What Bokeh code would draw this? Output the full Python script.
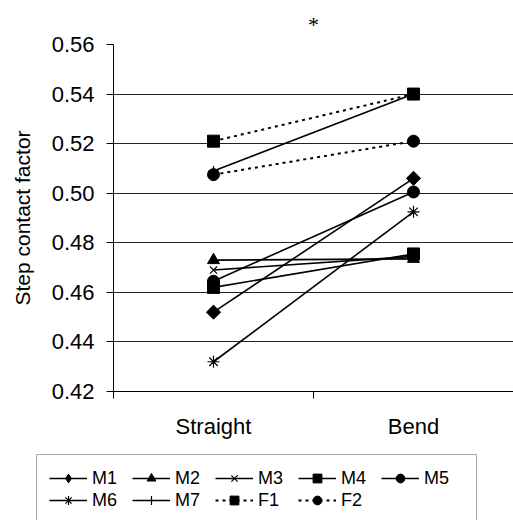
import math
from bokeh.plotting import figure
from bokeh.models import (Range1d, FixedTicker, NumeralTickFormatter, Legend,
                          LegendItem)
from bokeh.embed import file_html
from bokeh.resources import INLINE

# Step contact factor per subject, straight vs. bend
conditions = ["Straight", "Bend"]
subjects = ["M1", "M2", "M3", "M4", "M5", "M6", "M7", "F1", "F2"]
M1 = [0.452, 0.506]
M2 = [0.473, 0.4735]
M3 = [0.469, 0.4745]
M4 = [0.462, 0.4755]
M5 = [0.4645, 0.5005]
M6 = [0.432, 0.4925]
M7 = [0.509, 0.540]
F1 = [0.521, 0.540]
F2 = [0.5075, 0.521]
y_ticks = [0.42, 0.44, 0.46, 0.48, 0.50, 0.52, 0.54, 0.56]

series = dict(M1=M1, M2=M2, M3=M3, M4=M4, M5=M5, M6=M6, M7=M7, F1=F1, F2=F2)
markers = dict(M1="square", M2="triangle", M3="x", M4="square", M5="circle",
               M6="asterisk", M7="cross", F1="square", F2="circle")
legend_markers = dict(markers, M1="diamond")
angles = dict(M1=math.pi / 4)
sizes = dict(M1=10, M2=12, M3=10, M4=12, M5=12, M6=12, M7=10, F1=12, F2=12)
legend_sizes = dict(M1=12, M2=10, M3=9, M4=9, M5=9, M6=10, M7=10, F1=9, F2=9)
dashed = {"F1", "F2"}

FONT = "Liberation Sans"
FS = "22px"

x_pos = [i + 0.5 for i in range(len(conditions))]

p = figure(width=513, height=450, output_backend="svg", toolbar_location=None,
           x_range=Range1d(0, len(conditions)), y_range=Range1d(y_ticks[0], y_ticks[-1]),
           min_border_left=113, min_border_right=0, min_border_top=44,
           min_border_bottom=59, title="*")
p.outline_line_color = None
p.background_fill_color = "white"
p.border_fill_color = "white"

p.title.align = "center"
p.title.text_font = "Liberation Serif"
p.title.text_font_size = "22px"
p.title.text_font_style = "normal"
p.title.text_color = "black"
p.title.standoff = 16

# y axis
p.yaxis.ticker = FixedTicker(ticks=y_ticks, minor_ticks=[])
p.yaxis.formatter = NumeralTickFormatter(format="0.00")
p.yaxis.axis_label = "Step contact factor"
p.yaxis.axis_label_text_font = FONT
p.yaxis.axis_label_text_font_size = "21px"
p.yaxis.axis_label_text_font_style = "normal"
p.yaxis.axis_label_text_color = "black"
p.yaxis.axis_label_standoff = 15
p.yaxis.major_label_text_font = FONT
p.yaxis.major_label_text_font_size = FS
p.yaxis.major_label_text_color = "black"
p.yaxis.major_label_standoff = 12
p.yaxis.major_tick_in = 0
p.yaxis.major_tick_out = 7
p.yaxis.axis_line_color = "black"
p.yaxis.major_tick_line_color = "black"

# x axis: labels at category centres, tick marks at category boundaries
p.xaxis.ticker = FixedTicker(ticks=x_pos,
                             minor_ticks=list(range(len(conditions) + 1)))
p.xaxis.major_label_overrides = {x: c for x, c in zip(x_pos, conditions)}
p.xaxis.major_label_text_font = FONT
p.xaxis.major_label_text_font_size = FS
p.xaxis.major_label_text_color = "black"
p.xaxis.major_label_standoff = 15
p.xaxis.major_tick_in = 0
p.xaxis.major_tick_out = 0
p.xaxis.minor_tick_in = 0
p.xaxis.minor_tick_out = 7
p.xaxis.minor_tick_line_color = "black"
p.xaxis.axis_line_color = "black"

p.xgrid.grid_line_color = None
p.ygrid.grid_line_color = "#222222"
p.ygrid.grid_line_width = 1

# legend strip underneath the chart; its proxies sit outside its visible range
lg = figure(width=513, height=70, output_backend="svg", toolbar_location=None,
            x_range=Range1d(10, 11), y_range=Range1d(0, 1),
            x_axis_type=None, y_axis_type=None, min_border=0)
lg.outline_line_color = None
lg.xgrid.grid_line_color = None
lg.ygrid.grid_line_color = None

items = []
for name in subjects:
    ys = series[name]
    dash = "3 4" if name in dashed else "solid"
    lw = 2 if name in dashed else 1.6
    mk = markers[name]
    hollow = mk in ("x", "asterisk", "cross")
    p.line(x_pos, ys, line_color="black", line_width=lw, line_dash=dash)
    p.scatter(x_pos, ys, marker=mk, size=sizes[name], angle=angles.get(name, 0),
              fill_color="black", line_color="black",
              line_width=1.2 if hollow else 1)
    lr = lg.line(x_pos, ys, line_color="black", line_width=lw, line_dash=dash)
    sr = lg.scatter(x_pos, ys, marker=legend_markers[name], size=legend_sizes[name],
                    fill_color="black", line_color="black",
                    line_width=1.2 if hollow else 1)
    items.append(LegendItem(label=name, renderers=[lr, sr]))

legend = Legend(items=items, orientation="horizontal", ncols=5,
                location=(36, -4), glyph_width=38, glyph_height=22,
                label_width=40, label_height=22, label_standoff=5, spacing=0,
                padding=12, margin=0,
                label_text_font=FONT, label_text_font_size="18px",
                label_text_color="black",
                border_line_color="#555555", border_line_width=1,
                background_fill_color="white")
lg.add_layout(legend)

open("out.html", "w").write(file_html([p, lg], INLINE))
